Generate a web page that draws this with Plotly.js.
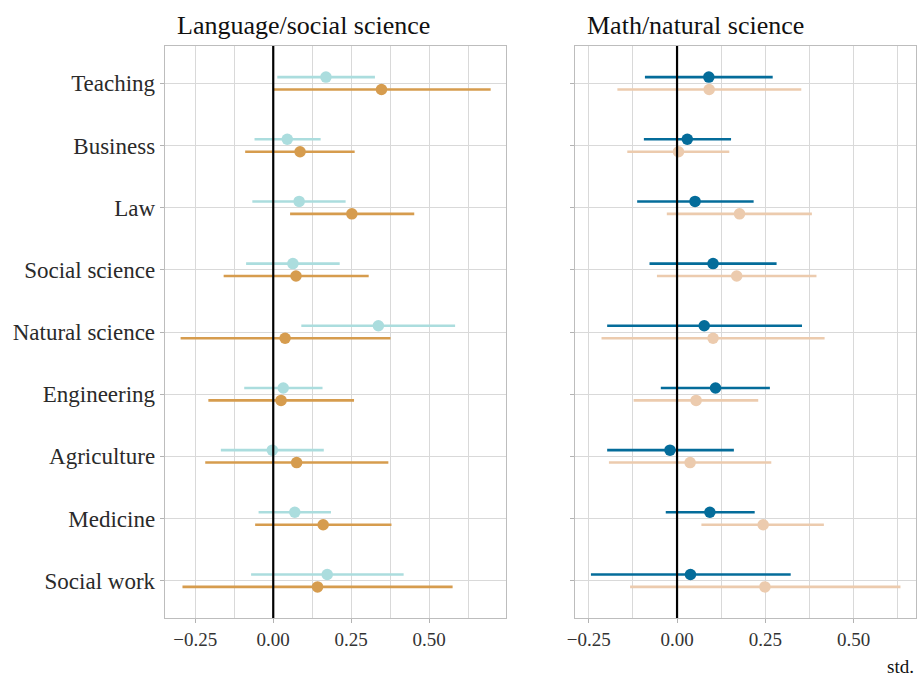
<!DOCTYPE html>
<html>
<head>
<meta charset="utf-8">
<script src="https://cdn.plot.ly/plotly-3.0.1.min.js"></script>
<style>html,body{margin:0;padding:0;background:#fff;}#chart{width:919px;height:677px;}</style>
</head>
<body>
<div id="chart"></div>
<script>
// ---- data ----
const categories = ["Teaching","Business","Law","Social science","Natural science","Engineering","Agriculture","Medicine","Social work"];

// Language/social science panel
const langA_est = [0.169, 0.045, 0.083, 0.063, 0.337, 0.032, -0.003, 0.069, 0.173];
const langA_lo  = [0.013, -0.060, -0.067, -0.087, 0.090, -0.093, -0.168, -0.047, -0.071];
const langA_hi  = [0.326, 0.152, 0.232, 0.213, 0.583, 0.158, 0.162, 0.185, 0.418];

const langB_est = [0.347, 0.086, 0.252, 0.073, 0.038, 0.025, 0.075, 0.160, 0.142];
const langB_lo  = [0.000, -0.090, 0.054, -0.159, -0.297, -0.208, -0.218, -0.058, -0.291];
const langB_hi  = [0.697, 0.261, 0.452, 0.306, 0.376, 0.259, 0.369, 0.379, 0.575];

// Math/natural science panel
const mathA_est = [0.090, 0.029, 0.051, 0.102, 0.077, 0.109, -0.020, 0.093, 0.038];
const mathA_lo  = [-0.091, -0.094, -0.113, -0.078, -0.198, -0.046, -0.198, -0.032, -0.244];
const mathA_hi  = [0.271, 0.153, 0.217, 0.282, 0.354, 0.263, 0.161, 0.220, 0.322];

const mathB_est = [0.091, 0.004, 0.177, 0.169, 0.102, 0.054, 0.037, 0.244, 0.249];
const mathB_lo  = [-0.169, -0.141, -0.029, -0.057, -0.214, -0.123, -0.193, 0.069, -0.133];
const mathB_hi  = [0.352, 0.148, 0.382, 0.395, 0.418, 0.230, 0.267, 0.416, 0.633];

const panelTitles = ["Language/social science", "Math/natural science"];
const xTickVals = [-0.25, 0, 0.25, 0.5];
const xAxisLabel = "std.";

// ---- styling ----
const FONT = "Liberation Serif, DejaVu Serif, serif";
const colors = {langA:"#ABDDDE", langB:"#D69C4E", mathA:"#046C9A", mathB:"#ECCBAE"};
const dodge = 0.1;

function series(est, lo, hi, shift, color, xa, ya){
  return {
    type:"scatter", mode:"markers",
    x: est,
    y: est.map((_, i) => i + shift),
    xaxis: xa, yaxis: ya,
    marker:{color: color, size: 11.5},
    error_x:{type:"data", symmetric:false,
      array: hi.map((h, i) => h - est[i]),
      arrayminus: lo.map((l, i) => est[i] - l),
      color: color, thickness: 2.6, width: 0},
    hoverinfo:"x", showlegend:false
  };
}

const traces = [
  series(langA_est, langA_lo, langA_hi, -dodge, colors.langA, "x", "y"),
  series(langB_est, langB_lo, langB_hi, +dodge, colors.langB, "x", "y"),
  series(mathA_est, mathA_lo, mathA_hi, -dodge, colors.mathA, "x2", "y2"),
  series(mathB_est, mathB_lo, mathB_hi, +dodge, colors.mathB, "x2", "y2")
];

const gridC = "#d9d9d9";
function xaxis(domain, range, anchor){
  return {
    domain: domain, range: range, anchor: anchor,
    tickvals: xTickVals, tickformat: ".2f",
    ticks:"outside", ticklen:4, tickcolor:"#b3b3b3", tickwidth:1,
    tickfont:{family:FONT, size:19, color:"#333"},
    showgrid:true, gridcolor:gridC, gridwidth:1,
    minor:{dtick:0.125, tick0:0, showgrid:true, gridcolor:gridC, gridwidth:1, ticks:""},
    zeroline:false,
    showline:true, mirror:true, linecolor:"#bdbdbd", linewidth:1.3
  };
}
function yaxis(anchor, showLabels){
  return {
    anchor: anchor, range:[8.6, -0.6],
    tickvals: categories.map((_, i) => i), ticktext: categories,
    showticklabels: showLabels,
    ticks:"outside", ticklen:4, tickcolor:"#b3b3b3",
    tickfont:{family:FONT, size:23, color:"#2a2a2a"},
    showgrid:true, gridcolor:gridC, gridwidth:1,
    zeroline:false,
    showline:true, mirror:true, linecolor:"#bdbdbd", linewidth:1.3
  };
}

const layout = {
  width:919, height:677,
  margin:{l:165, r:3, t:46, b:59},
  paper_bgcolor:"#fff", plot_bgcolor:"#fff",
  font:{family:FONT, color:"#222"},
  xaxis: xaxis([0, 0.454], [-0.347, 0.746], "y"),
  yaxis: yaxis("x", true),
  xaxis2: xaxis([0.546, 1], [-0.289, 0.677], "y2"),
  yaxis2: yaxis("x2", false),
  shapes:[
    {type:"line", xref:"x", yref:"y domain", x0:0, x1:0, y0:0, y1:1, line:{color:"#000", width:2.2}, layer:"above"},
    {type:"line", xref:"x2", yref:"y2 domain", x0:0, x1:0, y0:0, y1:1, line:{color:"#000", width:2.2}, layer:"above"}
  ],
  annotations:[
    {text:panelTitles[0], xref:"x domain", yref:"paper", x:0, y:1, xanchor:"left", yanchor:"bottom", xshift:10, yshift:4, showarrow:false, font:{family:FONT, size:26, color:"#111"}},
    {text:panelTitles[1], xref:"x2 domain", yref:"paper", x:0, y:1, xanchor:"left", yanchor:"bottom", xshift:10, yshift:4, showarrow:false, font:{family:FONT, size:26, color:"#111"}},
    {text:xAxisLabel, xref:"paper", yref:"paper", x:1, y:0, xanchor:"right", yanchor:"top", yshift:-36, showarrow:false, font:{family:FONT, size:19, color:"#111"}}
  ]
};

Plotly.newPlot("chart", traces, layout, {staticPlot:true, displayModeBar:false});
</script>
</body>
</html>
